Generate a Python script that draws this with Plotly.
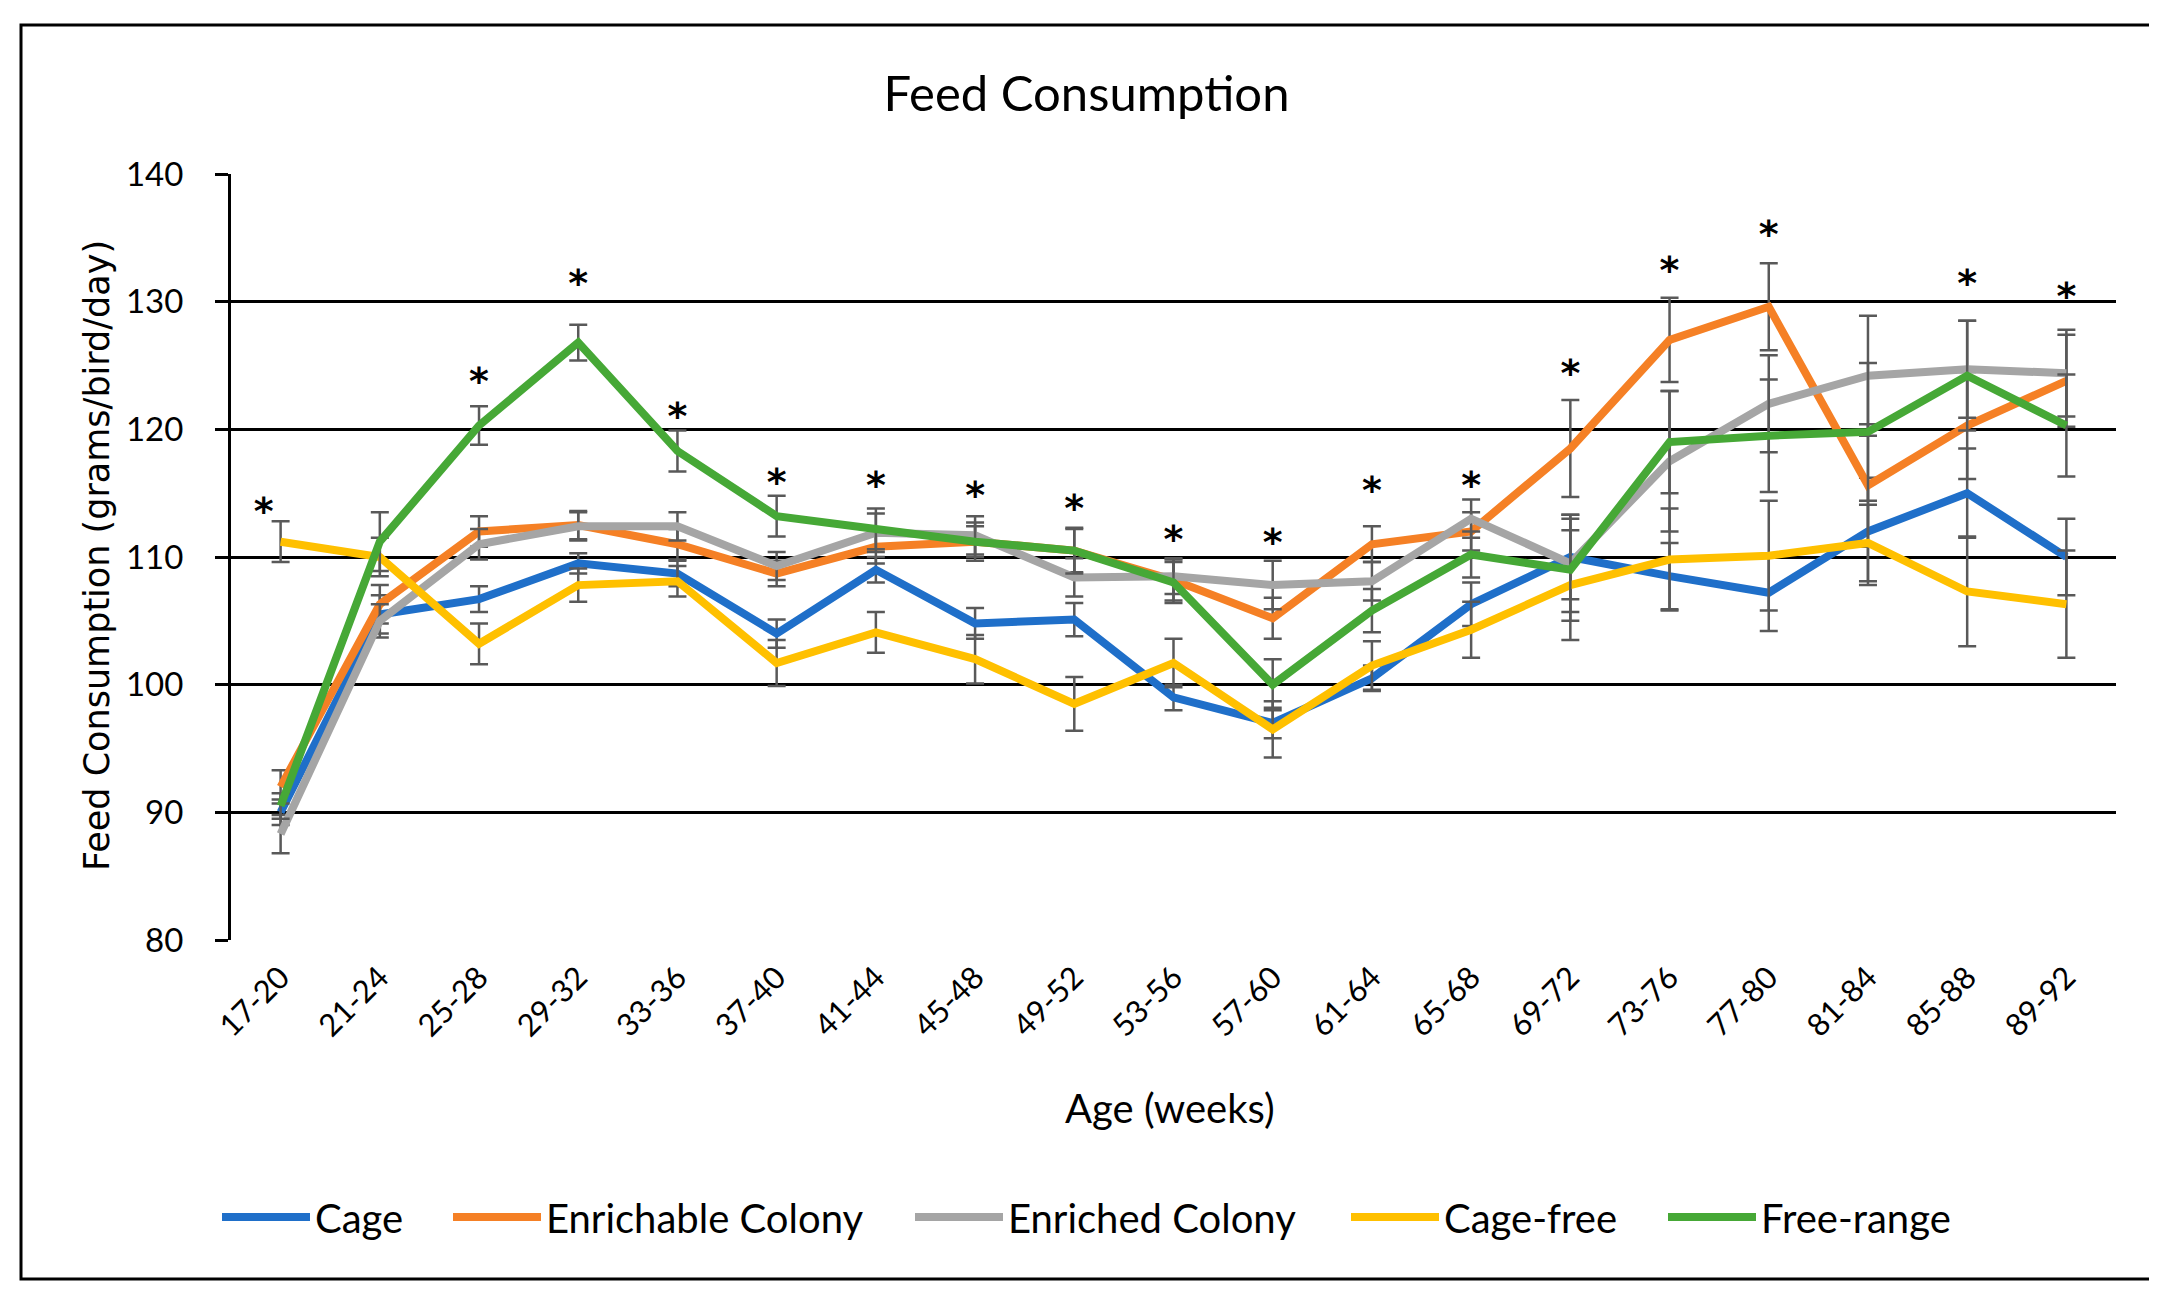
import plotly.graph_objects as go

categories = ["17-20", "21-24", "25-28", "29-32", "33-36", "37-40", "41-44", "45-48",
              "49-52", "53-56", "57-60", "61-64", "65-68", "69-72", "73-76", "77-80",
              "81-84", "85-88", "89-92"]

cage = [90.0, 105.5, 106.7, 109.5, 108.7, 104.0, 109.0, 104.8, 105.1, 99.0, 97.0,
        100.5, 106.3, 110.0, 108.5, 107.2, 112.0, 115.0, 110.0]
enrichable = [92.0, 106.3, 112.0, 112.5, 111.0, 108.7, 110.8, 111.2, 110.5, 108.2, 105.2,
              111.0, 112.0, 118.5, 127.0, 129.6, 115.6, 120.3, 123.8]
enriched = [88.3, 105.0, 111.0, 112.4, 112.4, 109.3, 111.9, 111.7, 108.4, 108.5, 107.8,
            108.1, 113.0, 109.5, 117.5, 122.0, 124.2, 124.7, 124.4]
cage_free = [111.2, 110.0, 103.2, 107.8, 108.1, 101.7, 104.1, 102.0, 98.5, 101.7, 96.5,
             101.5, 104.3, 107.8, 109.8, 110.1, 111.1, 107.3, 106.3]
free_range = [90.5, 111.2, 120.3, 126.8, 118.3, 113.2, 112.2, 111.2, 110.5, 108.0, 100.0,
              105.8, 110.2, 109.0, 119.0, 119.5, 119.8, 124.2, 120.3]

err_cage = [1.0, 1.5, 1.0, 0.8, 1.0, 1.1, 1.0, 1.2, 1.3, 1.0, 1.2,
            1.0, 1.7, 3.3, 2.6, 3.0, 4.2, 3.5, 3.0]
err_enrichable = [1.3, 1.5, 1.2, 1.1, 1.2, 1.0, 1.3, 1.5, 1.7, 1.6, 1.6,
                  1.4, 1.5, 3.8, 3.3, 3.4, 4.8, 4.2, 3.6]
err_enriched = [1.5, 1.3, 1.2, 1.1, 1.1, 1.1, 1.5, 1.5, 1.5, 1.4, 1.9,
                1.5, 1.5, 3.8, 5.5, 3.8, 4.7, 3.8, 3.4]
err_cage_free = [1.6, 1.5, 1.6, 1.3, 1.2, 1.8, 1.6, 1.9, 2.1, 1.9, 2.2,
                 1.9, 2.2, 4.3, 4.0, 4.3, 3.0, 4.3, 4.2]
err_free_range = [1.0, 2.3, 1.5, 1.4, 1.6, 1.6, 1.6, 1.2, 1.8, 1.6, 2.0,
                  1.7, 1.8, 4.0, 4.0, 4.4, 5.4, 4.3, 4.0]

# significance markers (category index, y value)
star_x = [-0.17, 2, 3, 4, 5, 6, 7, 8, 9, 10, 11, 12, 13, 14, 15, 17, 18]
star_y = [113.3, 123.5, 131.2, 120.8, 115.6, 115.4, 114.6, 113.6, 111.1, 110.9,
          115.0, 115.4, 124.1, 132.2, 135.0, 131.2, 130.2]

y_ticks = [80, 90, 100, 110, 120, 130, 140]

series = [
    ("Cage", cage, err_cage, "#1F6FC9"),
    ("Enrichable Colony", enrichable, err_enrichable, "#F58025"),
    ("Enriched Colony", enriched, err_enriched, "#A5A5A5"),
    ("Cage-free", cage_free, err_cage_free, "#FFC000"),
    ("Free-range", free_range, err_free_range, "#46A836"),
]
legend_starts = [223, 454, 916, 1352, 1669]  # pixel x of each legend line start

W, H = 2157, 1294
L, R, T, B = 223, 2157 - 2108, 166, 1294 - 932
pw, ph = W - L - R, H - T - B


def px_x(p):
    return (p - L) / pw


def px_y(p):
    return (H - B - p) / ph


font_main = "Lato"
xs = list(range(len(categories)))
fig = go.Figure()
legend_layouts = {}
for i, (name, vals, errs, col) in enumerate(series):
    lg = "legend" if i == 0 else f"legend{i + 1}"
    fig.add_trace(go.Scatter(
        x=xs, y=vals, name=name, mode="lines", legend=lg,
        line=dict(color=col, width=8),
        error_y=dict(type="data", array=errs, visible=True, color="#595959",
                     thickness=2.5, width=9),
    ))
    legend_layouts[lg] = dict(
        orientation="h", x=px_x(legend_starts[i] - 14), xanchor="left",
        y=px_y(1209), yanchor="middle",
        font=dict(family=font_main, size=40, color="black"),
        itemwidth=88, bgcolor="rgba(0,0,0,0)", borderwidth=0,
    )

fig.add_trace(go.Scatter(
    x=star_x, y=star_y, mode="text", text=["*"] * len(star_y),
    textposition="middle center",
    textfont=dict(family="DejaVu Sans", size=38, color="black", weight="bold"),
    showlegend=False, hoverinfo="skip", cliponaxis=False,
))

fig.update_layout(
    width=W, height=H,
    margin=dict(l=L, r=R, t=T, b=B),
    paper_bgcolor="white", plot_bgcolor="white",
    showlegend=True,
    title=dict(text="Feed Consumption", x=0.5, xanchor="center", y=1 - 86 / H,
               yanchor="middle", font=dict(family=font_main, size=49, color="black")),
    xaxis=dict(range=[-0.5, 18.5], tickmode="array", tickvals=xs, ticktext=categories,
               tickangle=-45, showgrid=False, zeroline=False, showline=False,
               ticks="", tickfont=dict(family=font_main, size=31, color="black"),
               ticklabelstandoff=12),
    yaxis=dict(range=[80, 140], tickmode="array", tickvals=y_ticks,
               showgrid=True, gridcolor="black", gridwidth=3, zeroline=False,
               showline=True, linecolor="black", linewidth=3,
               ticks="outside", ticklen=13, tickwidth=3, tickcolor="black",
               tickfont=dict(family=font_main, size=33, color="black"),
               ticklabelstandoff=25),
    annotations=[
        dict(text="Age (weeks)", xref="paper", yref="paper", x=px_x(1162), y=px_y(1100),
             xanchor="center", yanchor="middle", showarrow=False,
             font=dict(family=font_main, size=40, color="black")),
        dict(text="Feed Consumption (grams/bird/day)", xref="paper", yref="paper",
             x=px_x(89), y=px_y(548), xanchor="center", yanchor="middle", textangle=-90,
             showarrow=False, font=dict(family="DejaVu Sans", size=35, color="black")),
    ],
    shapes=[
        dict(type="rect", xref="paper", yref="paper", x0=px_x(13), x1=px_x(2147),
             y0=px_y(1271), y1=px_y(17), line=dict(color="black", width=3),
             fillcolor="rgba(0,0,0,0)", layer="below"),
    ],
    **legend_layouts,
)

fig.write_html("out.html")
